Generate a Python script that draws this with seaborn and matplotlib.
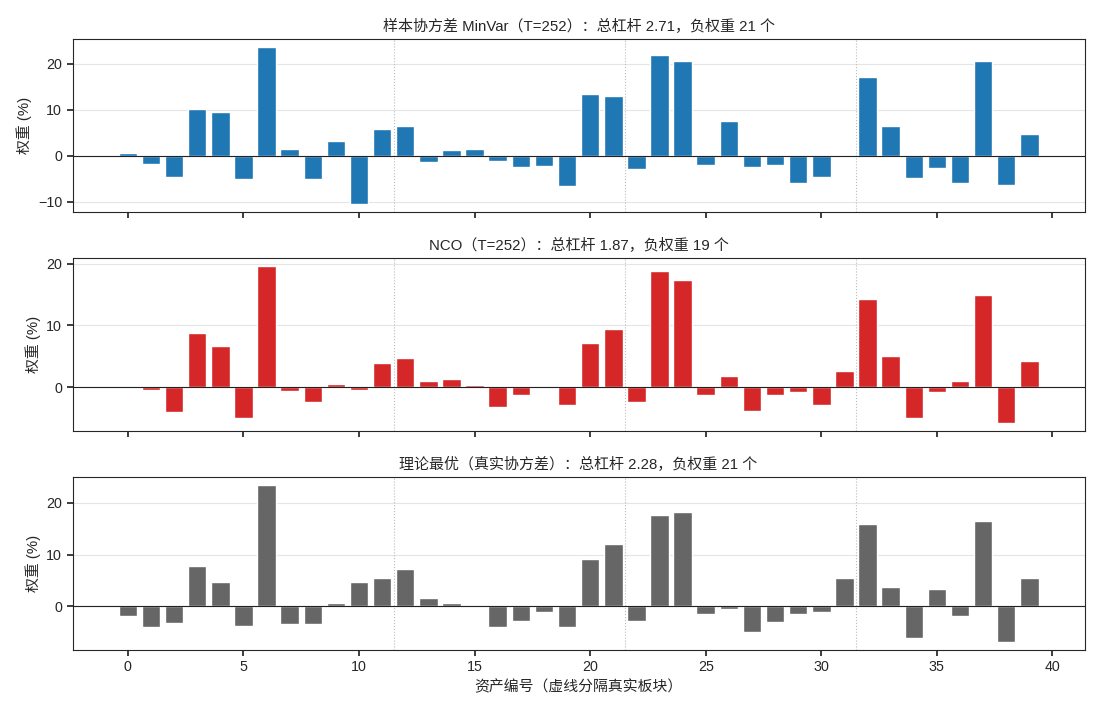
import numpy as np
import pandas as pd
import seaborn as sns
import matplotlib.pyplot as plt

# Weights (%) per asset
assets = list(range(40))

w_sample = [0.5, -1.9, -4.6, 10.2, 9.5, -5.1, 23.6, 1.4, -5.1, 3.3,
            -10.6, 5.9, 6.5, -1.4, 1.2, 1.4, -1.2, -2.4, -2.2, -6.5,
            13.4, 13.0, -2.9, 22.0, 20.5, -2.1, 7.6, -2.4, -2.1, -5.9,
            -4.6, -0.3, 17.1, 6.5, -4.9, -2.7, -5.9, 20.7, -6.3, 4.8]

w_nco = [0.0, -0.5, -4.0, 8.7, 6.7, -5.0, 19.6, -0.6, -2.4, 0.6,
         -0.5, 4.0, 4.8, 1.0, 1.3, 0.3, -3.2, -1.3, 0.0, -2.9,
         7.1, 9.5, -2.4, 18.8, 17.3, -1.3, 1.9, -3.9, -1.3, -0.8,
         -2.9, 2.7, 14.3, 5.0, -5.0, -0.8, 1.0, 14.9, -5.8, 4.2]

w_true = [-1.8, -4.0, -3.2, 7.8, 4.8, -3.7, 23.5, -3.5, -3.4, 0.6,
          4.8, 5.5, 7.3, 1.7, 0.6, 0.0, -4.0, -2.9, -1.1, -4.0,
          9.2, 12.0, -2.9, 17.6, 18.3, -1.5, -0.6, -5.0, -3.0, -1.5,
          -1.1, 5.4, 15.9, 3.8, -6.1, 3.4, -1.9, 16.6, -6.9, 5.5]

titles = ["样本协方差 MinVar（T=252）：总杠杆 2.71，负权重 21 个",
          "NCO（T=252）：总杠杆 1.87，负权重 19 个",
          "理论最优（真实协方差）：总杠杆 2.28，负权重 21 个"]
colors = ["#1f77b4", "#d62728", "#666666"]
block_edges = [11.5, 21.5, 31.5]

sns.set_theme(style="ticks")
plt.rcParams['font.family'] = ['Liberation Sans', 'Noto Sans CJK SC', 'DejaVu Sans']
plt.rcParams['axes.unicode_minus'] = True

fig, axes = plt.subplots(3, 1, figsize=(11, 7.15), dpi=100, sharex=True)
fig.subplots_adjust(left=0.066, right=0.986, top=0.945, bottom=0.091, hspace=0.265)

for ax, w, title, c in zip(axes, [w_sample, w_nco, w_true], titles, colors):
    df = pd.DataFrame({"asset": assets, "weight": w})
    sns.barplot(data=df, x="asset", y="weight", native_scale=True, color=c,
                width=0.8, saturation=1, ax=ax, zorder=2)
    ax.axhline(0, color="#222222", lw=0.8, zorder=3)
    for e in block_edges:
        ax.axvline(e, color="#bbbbbb", lw=0.8, ls=":", zorder=1)
    ax.grid(axis="y", color="#e5e5e5", lw=0.8, zorder=0)
    ax.set_axisbelow(True)
    ax.yaxis.set_major_locator(plt.MultipleLocator(10))
    ax.set_title(title, fontsize=10.8)
    ax.set_ylabel("权重 (%)", fontsize=10.7)
    ax.set_xlabel("")
    ax.tick_params(labelsize=10.3, length=4)
    ax.margins(x=0.05, y=0.05)
    ax.autoscale_view()
    for s in ax.spines.values():
        s.set_linewidth(0.8)

axes[-1].set_xlim(-0.4 - 0.05 * 39.8, 39.4 + 0.05 * 39.8)
axes[-1].set_xticks(range(0, 41, 5))
axes[-1].set_xlabel("资产编号（虚线分隔真实板块）", fontsize=10.7)

plt.savefig("out.png", dpi=100)
plt.close()
